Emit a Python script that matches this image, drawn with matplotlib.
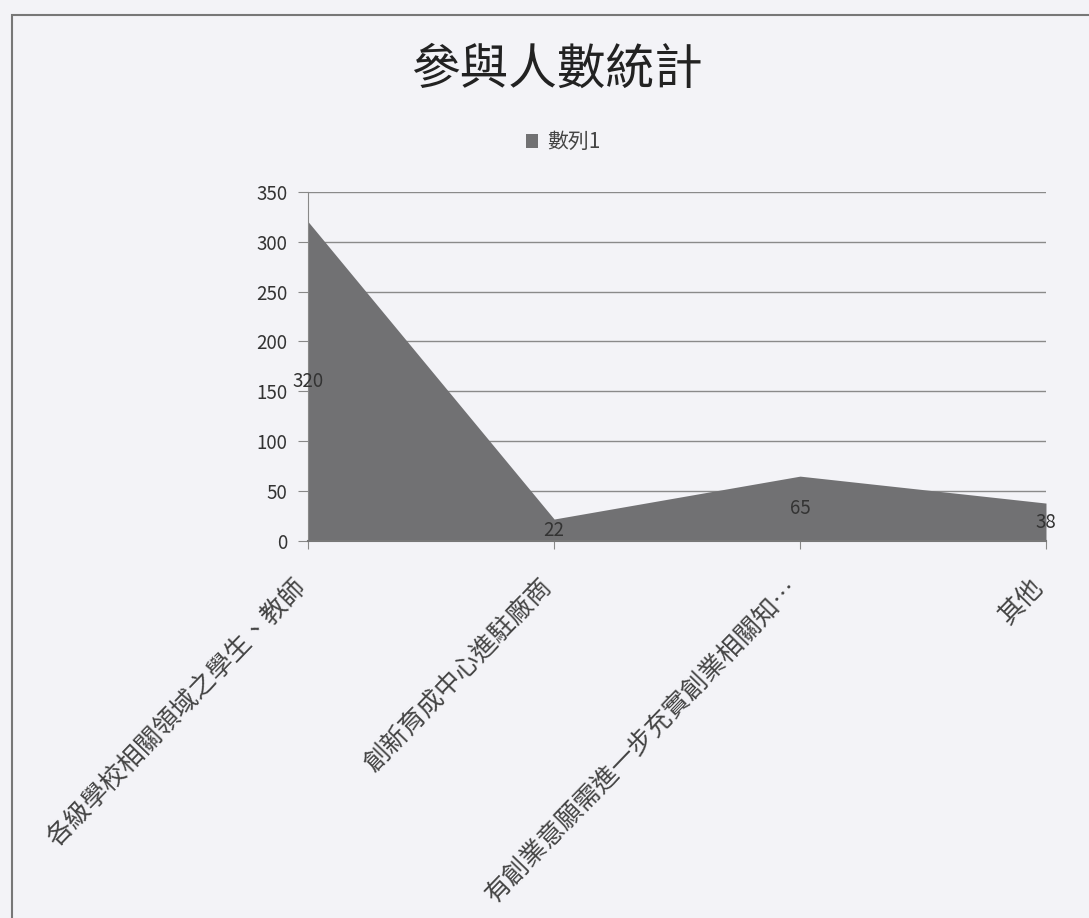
import matplotlib.pyplot as plt
from matplotlib.patches import Rectangle
from matplotlib.transforms import ScaledTranslation

plt.rcParams['font.family'] = ['Noto Sans CJK TC', 'DejaVu Sans']

categories = ["各級學校相關領域之學生、教師", "創新育成中心進駐廠商",
              "有創業意願需進一步充實創業相關知…", "其他"]
values = [320, 22, 65, 38]
series_name = "數列1"
title = "參與人數統計"
yticks = [0, 50, 100, 150, 200, 250, 300, 350]

bg = "#f3f3f7"
fill = "#717173"

fig = plt.figure(figsize=(10.89, 9.18), dpi=100, facecolor=bg)
ax = fig.add_axes([0.283, 0.4107, 0.6775, 0.3803])
ax.set_facecolor(bg)

x = list(range(len(values)))
ax.fill_between(x, values, 0, color=fill, linewidth=0, zorder=2, label=series_name)

ax.set_xlim(0, len(values) - 1)
ax.set_ylim(0, 350)
ax.set_yticks(yticks)
ax.set_yticklabels([str(v) for v in yticks], fontsize=13.5, color="#333333")
ax.grid(axis="y", color="#8a8a8a", linewidth=1.0, zorder=1)
ax.tick_params(axis="y", length=7, color="#888888", pad=8)
ax.tick_params(axis="x", length=6, color="#888888", pad=18)

for s in ["top", "right"]:
    ax.spines[s].set_visible(False)
ax.spines["left"].set_color("#888888")
ax.spines["bottom"].set_color("#777777")
ax.spines["bottom"].set_linewidth(1.5)

ax.set_xticks(x)
ax.set_xticklabels(categories, rotation=46, ha="right", va="top",
                   rotation_mode="anchor", fontsize=18.5, color="#444444")
shift = ScaledTranslation(-15 / 100, 0, fig.dpi_scale_trans)
for lbl in ax.get_xticklabels():
    lbl.set_transform(lbl.get_transform() + shift)

# data labels at half height, as in the original
for xi, v in zip(x, values):
    ax.text(xi, v / 2, str(v), ha="center", va="center", fontsize=13.5,
            color="#333333", zorder=3)

fig.text(0.511, 0.924, title, ha="center", va="center", fontsize=35, color="#222222")
fig.legend(loc="center", bbox_to_anchor=(0.517, 0.845), frameon=False,
           fontsize=15, handlelength=0.6, handleheight=0.6, handletextpad=0.4,
           labelcolor="#444444")

# chart border
fig.patches.append(Rectangle((12 / 1089, -0.1), 1.2, 1 - 15 / 918 + 0.1,
                             transform=fig.transFigure, fill=False,
                             edgecolor="#777777", linewidth=1.5))

fig.savefig("out.png", dpi=100, facecolor=bg)
